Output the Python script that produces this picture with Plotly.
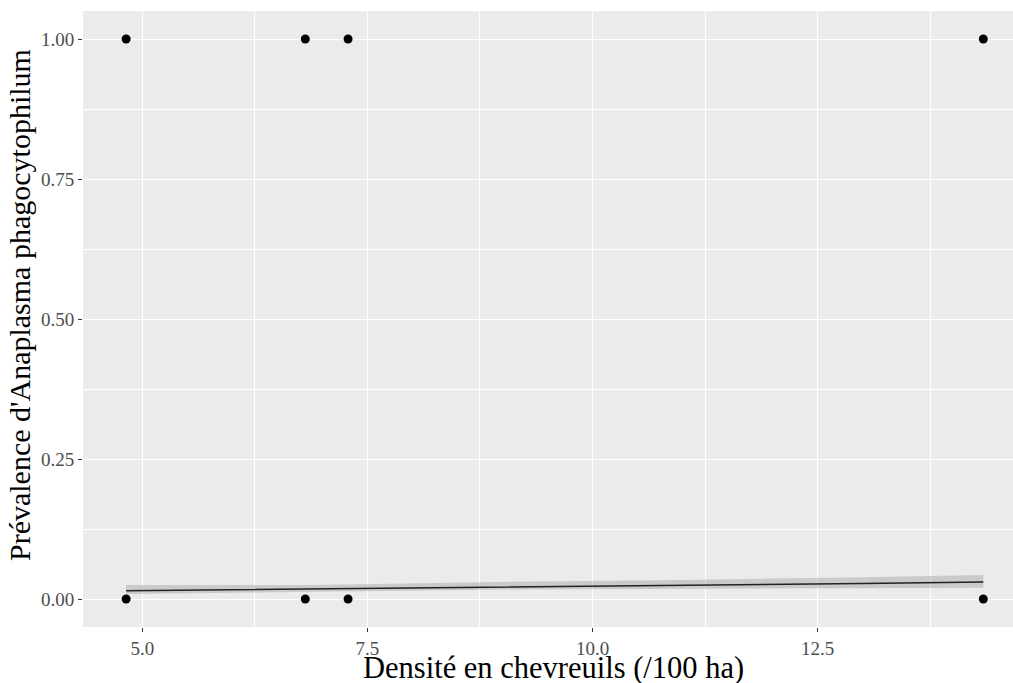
import plotly.graph_objects as go

# Observed data (density vs infection status)
density = [4.82, 6.81, 7.285, 14.34, 4.82, 6.81, 7.285, 14.34]
prevalence = [1, 1, 1, 1, 0, 0, 0, 0]

# Fitted curve and confidence band
fit_x = [4.82, 6.9, 9.1, 11.0, 13.0, 14.34]
fit_y = [0.0148, 0.0179, 0.0209, 0.0240, 0.0278, 0.0304]
fit_upper = [0.025, 0.025, 0.031, 0.034, 0.039, 0.043]
fit_lower = [0.009, 0.013, 0.017, 0.018, 0.019, 0.020]

x_ticks = [5, 7.5, 10, 12.5]
x_ticktext = ["5.0", "7.5", "10.0", "12.5"]
x_minor = [6.25, 8.75, 11.25, 13.75]
y_ticks = [0, 0.25, 0.5, 0.75, 1.0]
y_ticktext = ["0.00", "0.25", "0.50", "0.75", "1.00"]
y_minor = [0.125, 0.375, 0.625, 0.875]

fig = go.Figure()
fig.add_trace(go.Scatter(
    x=fit_x + fit_x[::-1], y=fit_upper + fit_lower[::-1],
    fill="toself", fillcolor="rgba(153,153,153,0.4)",
    line=dict(width=0), mode="lines", hoverinfo="skip", showlegend=False))
fig.add_trace(go.Scatter(
    x=fit_x, y=fit_y, mode="lines",
    line=dict(color="#222222", width=1.5), showlegend=False))
fig.add_trace(go.Scatter(
    x=density, y=prevalence, mode="markers",
    marker=dict(color="black", size=9), showlegend=False))

font_family = "Liberation Serif"
fig.update_layout(
    width=1013, height=683,
    margin=dict(l=83, r=0, t=11, b=56),
    paper_bgcolor="white", plot_bgcolor="#EBEBEB",
    font=dict(family=font_family),
    xaxis=dict(range=[4.341, 14.67], tickvals=x_ticks, ticktext=x_ticktext,
               showgrid=True, gridcolor="white", gridwidth=1.4, zeroline=False,
               ticks="outside", ticklen=4, tickcolor="#333333", tickwidth=1,
               tickfont=dict(family=font_family, size=19, color="#4D4D4D"),
               minor=dict(tickvals=x_minor, showgrid=True, gridcolor="white", gridwidth=0.7)),
    yaxis=dict(range=[-0.05, 1.05], tickvals=y_ticks, ticktext=y_ticktext,
               showgrid=True, gridcolor="white", gridwidth=1.4, zeroline=False,
               ticks="outside", ticklen=4, tickcolor="#333333", tickwidth=1,
               tickfont=dict(family=font_family, size=19, color="#4D4D4D"),
               minor=dict(tickvals=y_minor, showgrid=True, gridcolor="white", gridwidth=0.7)),
    annotations=[
        dict(text="Densité en chevreuils (/100 ha)", xref="paper", yref="paper",
             x=0.506, y=0, xanchor="center", yanchor="middle", yshift=-41,
             showarrow=False, font=dict(family=font_family, size=30.5, color="black")),
        dict(text="Prévalence d'Anaplasma phagocytophilum", xref="paper", yref="paper",
             x=0, y=0.5227, xanchor="center", yanchor="middle", xshift=-64,
             textangle=-90, showarrow=False,
             font=dict(family=font_family, size=30, color="black")),
    ],
)

fig.write_html("out.html")
